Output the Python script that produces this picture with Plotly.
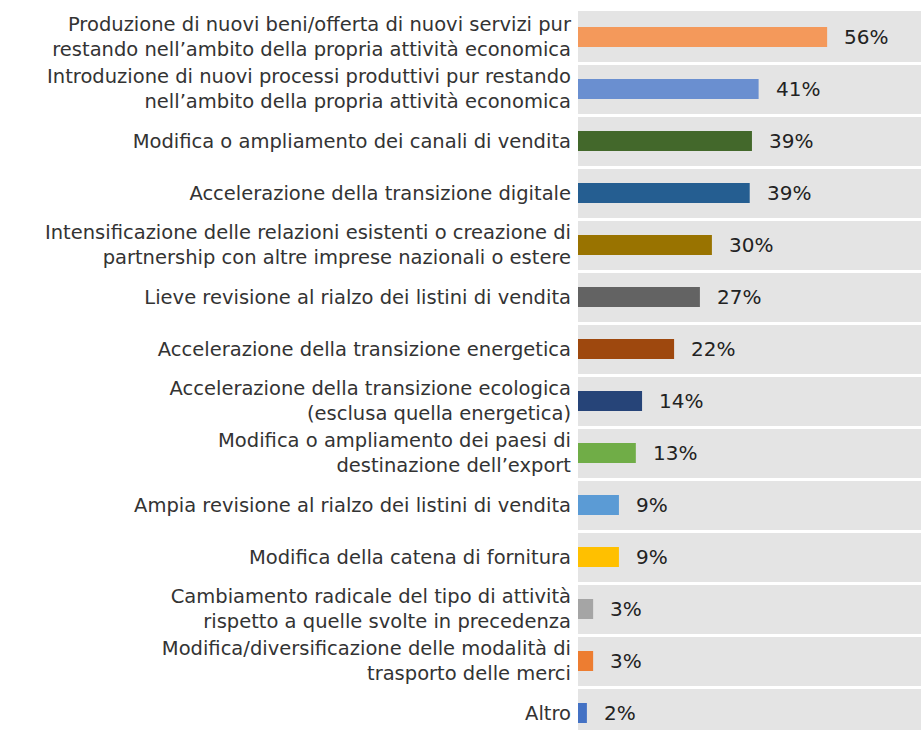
import plotly.graph_objects as go

categories = [
    "Produzione di nuovi beni/offerta di nuovi servizi pur<br>restando nell\u2019ambito della propria attività economica",
    "Introduzione di nuovi processi produttivi pur restando<br>nell\u2019ambito della propria attività economica",
    "Modifica o ampliamento dei canali di vendita",
    "Accelerazione della transizione digitale",
    "Intensificazione delle relazioni esistenti o creazione di<br>partnership con altre imprese nazionali o estere",
    "Lieve revisione al rialzo dei listini di vendita",
    "Accelerazione della transizione energetica",
    "Accelerazione della transizione ecologica<br>(esclusa quella energetica)",
    "Modifica o ampliamento dei paesi di<br>destinazione dell\u2019export",
    "Ampia revisione al rialzo dei listini di vendita",
    "Modifica della catena di fornitura",
    "Cambiamento radicale del tipo di attività<br>rispetto a quelle svolte in precedenza",
    "Modifica/diversificazione delle modalità di<br>trasporto delle merci",
    "Altro",
]
values = [56.0, 40.6, 39.1, 38.6, 30.1, 27.4, 21.6, 14.4, 13.0, 9.2, 9.2, 3.4, 3.4, 2.0]
value_labels = ["56%", "41%", "39%", "39%", "30%", "27%", "22%", "14%", "13%", "9%", "9%", "3%", "3%", "2%"]
colors = ["#F4995B", "#6A8FD0", "#43682B", "#255E91", "#997300", "#636363", "#9E480E",
          "#264478", "#70AD47", "#5B9BD5", "#FFC000", "#A5A5A5", "#ED7D31", "#4472C4"]

FONT = "DejaVu Sans"

fig = go.Figure(go.Bar(
    x=values, y=categories, orientation="h",
    marker=dict(color=colors, line=dict(width=0)),
    hoverinfo="skip",
))

for v, c, t in zip(values, categories, value_labels):
    fig.add_annotation(x=v, y=c, text=t, showarrow=False, xanchor="left",
                       xshift=15, font=dict(family=FONT, size=20, color="#222222"))

fig.update_layout(
    width=921, height=739,
    margin=dict(l=578, r=0, t=11, b=0, autoexpand=False),
    paper_bgcolor="white", plot_bgcolor="#E4E4E4",
    bargap=0.615, showlegend=False,
    font=dict(family=FONT, size=19.5, color="#333333"),
)
fig.update_xaxes(range=[0, 77.1], visible=False, showgrid=False, zeroline=False,
                 automargin=False)
fig.update_yaxes(type="category", autorange="reversed", tickson="boundaries",
                 showgrid=True, gridcolor="white", gridwidth=3, ticks="",
                 ticklen=0, ticklabelstandoff=6, automargin=False,
                 tickfont=dict(family=FONT, size=19.5, color="#333333"),
                 showline=False, zeroline=False)

fig.write_html(
    "out.html",
    config={"displayModeBar": False},
    post_script="document.body.style.margin='0';document.body.style.overflow='hidden';"
                "document.documentElement.style.overflow='hidden';",
)
